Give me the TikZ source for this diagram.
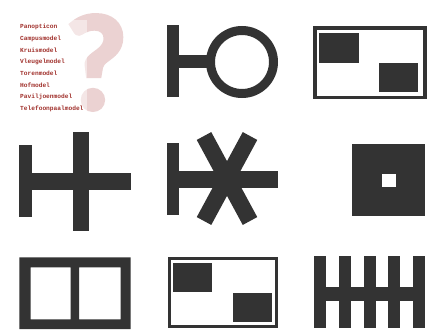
\documentclass[tikz,border=0pt]{standalone}
\usepackage{fontspec}
\newfontfamily\qfont[BoldFeatures={FakeBold=3}]{Carlito}
\newfontfamily\listfont{Liberation Mono}
\definecolor{blockgrey}{HTML}{333333}
\definecolor{listred}{HTML}{A0302B}
\definecolor{qpink}{HTML}{EBD2D2}
\tikzset{
  blk/.style={fill=blockgrey},
  lbl/.style={anchor=west,inner sep=0pt,text=listred,font=\listfont\bfseries\fontsize{6.2}{7}\selectfont}
}
\begin{document}
\begin{tikzpicture}[x=1pt,y=-1pt]
            \useasboundingbox (0,0) rectangle (430,331);
            % question mark with the list of models
            \node[text=qpink,font=\qfont\bfseries\fontsize{136}{136}\selectfont,inner sep=0pt,anchor=base] (qmark) at (96,109) {?};
            \fill[white,fill opacity=.45] (17,20) rectangle (87,114);
            \foreach \name [count=\i] in {Panopticon,Campusmodel,Kruismodel,Vleugelmodel,Torenmodel,Hofmodel,Paviljoenmodel,Telefoonpaalmodel}
                \node[lbl] (model\i) at (20,15.1+11.66*\i) {\name};
            % bar with ring
            \fill[blk] (167.3,25) rectangle (179.3,97);
            \fill[blk] (179,55) rectangle (207,68);
            \draw[blockgrey,line width=9pt] (242,62) circle[radius=31.5];
            % card, top
            \draw[blockgrey,line width=3.5pt] (315.1,27.8) rectangle (424.9,97.6);
            \fill[blk] (319.3,33.3) rectangle (359,62.7);
            \fill[blk] (379.3,63.3) rectangle (418.3,92.3);
            % cross
            \fill[blk] (19.3,145) rectangle (31.7,217.3);
            \fill[blk] (31,173.3) rectangle (130.7,190);
            \fill[blk] (72.7,131.7) rectangle (89.3,231);
            % star
            \fill[blk] (167.3,143.3) rectangle (178.5,214.5);
            \fill[blk] (178,171) rectangle (278.3,187.7);
            \draw[blockgrey,line width=16.5pt] (204,136) -- (250,221);
            \draw[blockgrey,line width=16.5pt] (250,136) -- (204,221);
            % block with court
            \fill[blk] (352.3,144.3) rectangle (425,216);
            \fill[white] (382,174) rectangle (395.5,187.3);
            % two courts
            \fill[blk,even odd rule] (19.3,257.3) rectangle (130.7,329)
                (30.7,267.3) rectangle (70.7,319.3)
                (79,267.3) rectangle (120.7,319.3);
            % card, bottom
            \draw[blockgrey,line width=3.5pt] (169.5,258.5) rectangle (276.5,326.5);
            \fill[blk] (173.3,263.3) rectangle (212.3,292.3);
            \fill[blk] (233.3,293.3) rectangle (272.3,322.3);
            % comb
            \fill[blk] (314.3,287.3) rectangle (425,301);
            \foreach \x in {314.3,339,363.7,388.4,413.1}
                \fill[blk] (\x,256) rectangle (\x+12,328);
        \end{tikzpicture}
\end{document}
